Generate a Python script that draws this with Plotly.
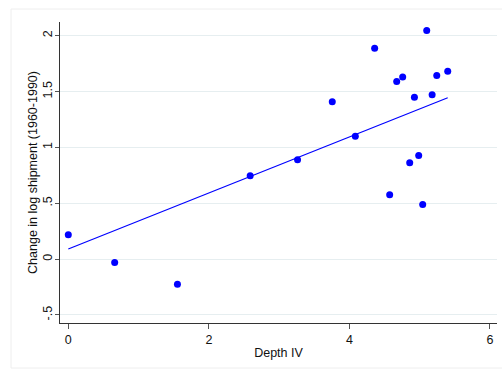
import plotly.graph_objects as go

depth_iv = [0.0, 0.66, 1.553, 2.588, 3.262, 3.756, 4.084, 4.359, 4.573, 4.673,
            4.758, 4.858, 4.925, 4.986, 5.043, 5.100, 5.177, 5.243, 5.399]
change_log = [0.218, -0.03, -0.224, 0.746, 0.889, 1.408, 1.101, 1.887, 0.576, 1.591,
              1.630, 0.862, 1.450, 0.928, 0.490, 2.048, 1.471, 1.645, 1.683]

# fitted line (intercept, slope)
fit_intercept = 0.09
fit_slope = 0.251

x_ticks = [0, 2, 4, 6]
y_ticks = [-0.5, 0, 0.5, 1, 1.5, 2]
y_tick_labels = ["-.5", "0", ".5", "1", "1.5", "2"]

xf = [min(depth_iv), max(depth_iv)]
yf = [fit_intercept + fit_slope * v for v in xf]

W, H = 502, 370
ml, mr, mt, mb = 60, 5, 22, 47
pw, ph = W - ml - mr, H - mt - mb

fig = go.Figure()
fig.add_trace(go.Scatter(x=xf, y=yf, mode="lines",
                         line=dict(color="#0000ff", width=1.2), showlegend=False))
fig.add_trace(go.Scatter(x=depth_iv, y=change_log, mode="markers",
                         marker=dict(color="#0000ff", size=7), showlegend=False))

font = "Liberation Sans, Arial, Helvetica, sans-serif"
fig.update_layout(
    width=W, height=H,
    margin=dict(l=ml, r=mr, t=mt, b=mb),
    paper_bgcolor="white", plot_bgcolor="white",
    font=dict(family=font, size=12.5, color="#111"),
    xaxis=dict(range=[-0.118, 6.10], tickvals=x_ticks, showgrid=False, zeroline=False,
               showline=True, linecolor="#333", linewidth=1,
               ticks="outside", ticklen=5, tickcolor="#555",
               title=dict(text="Depth IV", font=dict(size=12.5), standoff=2),
               tickfont=dict(size=12.5)),
    yaxis=dict(range=[-0.572, 2.123], tickvals=y_ticks, ticktext=y_tick_labels,
               tickangle=-90, showgrid=True, gridcolor="#e6eef0", gridwidth=1,
               zeroline=False, showline=True, linecolor="#333", linewidth=1,
               ticks="outside", ticklen=4, tickcolor="#555", ticklabelstandoff=-2,
               title=dict(text="Change in log shipment (1960-1990)", font=dict(size=12.5), standoff=0),
               tickfont=dict(size=12.5)),
)

# outer graph-region frame
fig.add_shape(type="rect", xref="paper", yref="paper",
              x0=(11 - ml) / pw, x1=(W + 5 - ml) / pw,
              y0=(H - mb - 368) / ph, y1=(H - mb - 9) / ph,
              line=dict(color="#eeeeee", width=1), layer="below")

fig.write_html("out.html")
